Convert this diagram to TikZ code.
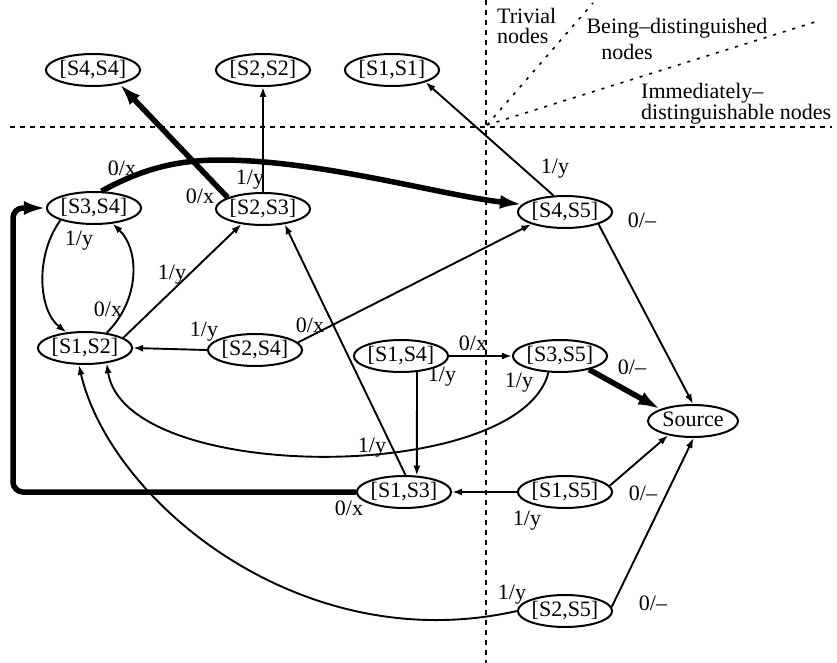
\documentclass[tikz,border=0pt]{standalone}
\usepackage{fontspec}
\setmainfont{Liberation Serif}
\usetikzlibrary{arrows.meta,shapes.geometric}
\begin{document}
\begin{tikzpicture}[x=1pt,y=-1pt,font=\fontsize{22}{24}\selectfont]
\tikzset{
  st/.style={draw, ellipse, line width=2pt, minimum width=90pt, minimum height=32pt, inner sep=0pt, text height=15pt, text depth=4pt},
  lab/.style={inner sep=0pt, text height=15pt, text depth=4pt},
  region/.style={inner sep=0pt, align=left},
  edge/.style={line width=1.9pt, -{Latex[length=10pt,width=7pt]}},
  heavy/.style={line width=5.5pt, -{Latex[length=22pt,width=14pt]}},
  sepline/.style={line width=1.6pt, dash pattern=on 5pt off 5pt},
  diagline/.style={line width=1.6pt, dash pattern=on 3pt off 7pt}
}
\useasboundingbox (0,0) rectangle (837,663);

% region separators
\coordinate (hl) at (10,127); \coordinate (hr) at (832,127);
\coordinate (vt) at (486,0); \coordinate (vb) at (486,663);
\coordinate (o) at (487,125); \coordinate (d1) at (593,3); \coordinate (d2) at (815,22);
\draw[sepline] (hl) -- (hr);
\draw[sepline] (vt) -- (vb);
\draw[diagline] (o) -- (d1);
\draw[diagline] (o) -- (d2);

\node[region, anchor=base west, font=\fontsize{22}{20}\selectfont] (t1) at (497,44) {Trivial\\nodes};
\node[lab] (t3) at (677,28) {Being–distinguished};
\node[lab] (t4) at (627,54) {nodes};
\node[region, anchor=base west, font=\fontsize{22}{18.5}\selectfont] (t5) at (641,120) {Immediately–\\distinguishable nodes};

% states
\node[st] (s44) at (93,70) {[S4,S4]};
\node[st] (s22) at (263,70) {[S2,S2]};
\node[st] (s11) at (392,70) {[S1,S1]};
\node[st] (s34) at (94,208) {[S3,S4]};
\node[st] (s23) at (263,209) {[S2,S3]};
\node[st] (s45) at (565,212) {[S4,S5]};
\node[st] (s12) at (85,348) {[S1,S2]};
\node[st] (s24) at (255,350) {[S2,S4]};
\node[st] (s14) at (401,356) {[S1,S4]};
\node[st] (s35) at (560,356) {[S3,S5]};
\node[st] (src) at (693,421) {Source};
\node[st] (s13) at (404,492) {[S1,S3]};
\node[st] (s15) at (565,492) {[S1,S5]};
\node[st] (s25) at (565,611) {[S2,S5]};

% transitions
\draw[heavy] (s23.162) -- (s44.-28);
\draw[edge] (s23.north) -- (s22.south);
\draw[heavy] (s34.66) .. controls (140,170) and (175,160) .. (220,160)
   .. controls (320,160) and (440,195) .. (s45.170);
\draw[edge] (s34.200) .. controls (35,255) and (38,310) .. (s12.140);
\draw[edge] (s12.35) .. controls (140,300) and (140,250) .. (s34.-40);
\draw[edge] (s12.15) -- (s23.-145);
\draw[edge] (s24.west) -- (s12.east);
\draw[edge] (s24.10) -- (s45.-160);
\draw[edge] (s13.85) -- (s23.-35);
\draw[edge] (s14.east) -- (s35.west);
\draw[edge] (s14.-45) -- (s13.52);
\draw[edge] (s35.-125) .. controls (520,485) and (125,485) .. (s12.-35);
\draw[heavy, rounded corners=10pt] (s13.west) -- (13,492) -- (13,208) -- (s34.west);
\draw[edge] (s45.125) -- (s11.-20);
\draw[edge] (s45.-20) -- (src.north);
\draw[heavy] (s35.-25) -- (src.160);
\draw[edge] (s15.8) -- (src.-150);
\draw[edge] (s25.5) -- (src.-88);
\draw[edge] (s15.west) -- (s13.east);
\draw[edge] (s25.west) .. controls (300,660) and (110,500) .. (s12.-110);

% labels
\node[lab] (l1) at (122,170) {0/x};
\node[lab] (l2) at (200,198) {0/x};
\node[lab] (l3) at (250,179) {1/y};
\node[lab] (l4) at (79,240) {1/y};
\node[lab] (l5) at (108,311) {0/x};
\node[lab] (l6) at (172,274) {1/y};
\node[lab] (l7) at (204,331) {1/y};
\node[lab] (l8) at (310,327) {0/x};
\node[lab] (l9) at (473,345) {0/x};
\node[lab] (l10) at (442,376) {1/y};
\node[lab] (l11) at (519,382) {1/y};
\node[lab] (l12) at (632,369) {0/–};
\node[lab] (l13) at (372,447) {1/y};
\node[lab] (l14) at (349,510) {0/x};
\node[lab] (l15) at (527,520) {1/y};
\node[lab] (l16) at (643,495) {0/–};
\node[lab] (l17) at (512,594) {1/y};
\node[lab] (l18) at (653,605) {0/–};
\node[lab] (l19) at (555,168) {1/y};
\node[lab] (l20) at (642,222) {0/–};
\end{tikzpicture}
\end{document}
